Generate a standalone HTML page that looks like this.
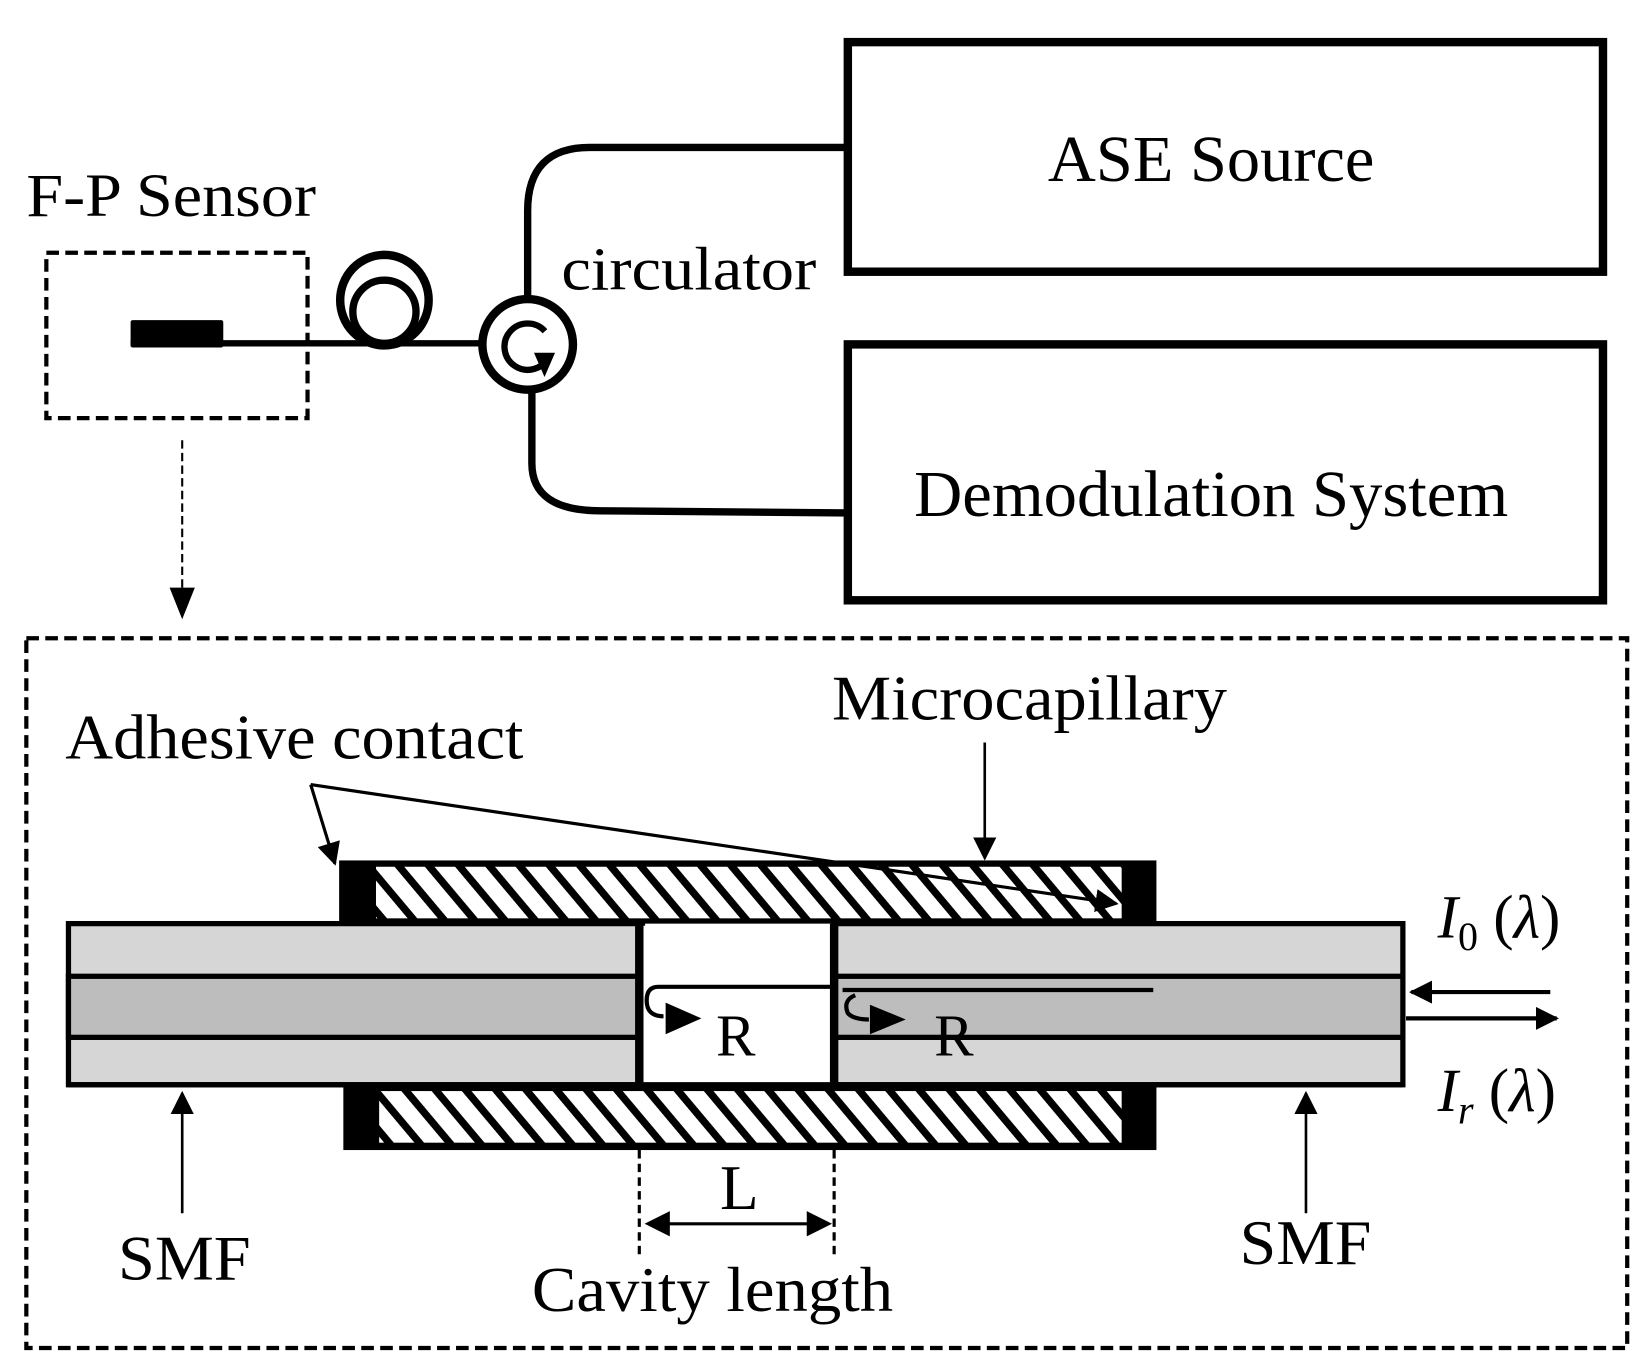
<!DOCTYPE html>
<html><head><style>html,body{margin:0;padding:0;background:#fff}svg{display:block}</style></head>
<body>
<svg width="1643" height="1367" viewBox="0 0 1560 1298" preserveAspectRatio="none" xmlns="http://www.w3.org/2000/svg" font-family="Liberation Serif, serif">
<defs>
<pattern id="h" width="22" height="22" patternUnits="userSpaceOnUse" patternTransform="rotate(-40)">
<rect width="22" height="22" fill="#fff"/><rect x="0" y="0" width="7" height="22" fill="#000"/>
</pattern>
<marker id="b" viewBox="0 0 10 10" refX="9" refY="5" markerWidth="22" markerHeight="22" orient="auto" markerUnits="userSpaceOnUse"><path d="M0,0L10,5L0,10z"/></marker>
</defs>
<rect x="805" y="40" width="717" height="218" fill="none" stroke="#000" stroke-width="8"/>
<rect x="805" y="327" width="717" height="243" fill="none" stroke="#000" stroke-width="8"/>
<text x="995" y="172" font-size="62" textLength="310" lengthAdjust="spacingAndGlyphs">ASE Source</text>
<text x="868" y="490" font-size="62" textLength="564" lengthAdjust="spacingAndGlyphs">Demodulation System</text>
<text x="25" y="205" font-size="58" textLength="275" lengthAdjust="spacingAndGlyphs">F-P Sensor</text>
<text x="533" y="275" font-size="58" textLength="242" lengthAdjust="spacingAndGlyphs">circulator</text>
<rect x="44" y="240" width="248" height="157" fill="none" stroke="#000" stroke-width="4" stroke-dasharray="12,6"/>
<rect x="124" y="304" width="88" height="26" fill="#000" rx="2"/>
<line x1="124" y1="326" x2="455" y2="326" stroke="#000" stroke-width="6"/>
<ellipse cx="365" cy="285" rx="42" ry="43" fill="none" stroke="#000" stroke-width="8"/>
<ellipse cx="365" cy="296" rx="30" ry="30" fill="none" stroke="#000" stroke-width="7"/>
<circle cx="501" cy="327" r="43" fill="#fff" stroke="#000" stroke-width="8"/>
<path d="M520,335 A22,22 0 1 0 501,350" fill="none" stroke="#000" stroke-width="6" transform="rotate(-60 501 327)"/>
<path d="M507,335 L527,335 L517,358z" fill="#000"/>
<path d="M501,284 L501,200 Q501,140 560,140 L805,140" fill="none" stroke="#000" stroke-width="7"/>
<path d="M505,372 L505,440 Q505,485 570,485 L805,487" fill="none" stroke="#000" stroke-width="7"/>
<line x1="173" y1="418" x2="173" y2="560" stroke="#000" stroke-width="2" stroke-dasharray="8,4"/>
<path d="M161,558 L185,558 L173,588z" fill="#000"/>
<rect x="25" y="606" width="1520" height="674" fill="none" stroke="#000" stroke-width="4" stroke-dasharray="12,6"/>
<text x="790" y="683" font-size="60" textLength="375" lengthAdjust="spacingAndGlyphs">Microcapillary</text>
<text x="62" y="720" font-size="60" textLength="435" lengthAdjust="spacingAndGlyphs">Adhesive contact</text>
<rect x="322" y="817" width="776" height="60" fill="#000"/>
<rect x="357" y="823" width="708" height="49" fill="url(#h)"/>
<rect x="326" y="1030" width="772" height="62" fill="#000"/>
<rect x="360" y="1036" width="705" height="49" fill="url(#h)"/>
<rect x="65" y="877" width="545" height="153" fill="#d6d6d6" stroke="#000" stroke-width="5"/>
<rect x="65" y="927" width="545" height="58" fill="#bdbdbd" stroke="#000" stroke-width="5"/>
<rect x="792" y="877" width="540" height="153" fill="#d6d6d6" stroke="#000" stroke-width="5"/>
<rect x="792" y="927" width="540" height="58" fill="#bdbdbd" stroke="#000" stroke-width="5"/>
<rect x="610" y="879" width="180" height="149" fill="#fff"/>
<line x1="607" y1="877" x2="607" y2="1032" stroke="#000" stroke-width="8"/>
<line x1="792" y1="877" x2="792" y2="1032" stroke="#000" stroke-width="8"/>
<line x1="65" y1="1030" x2="1332" y2="1030" stroke="#000" stroke-width="5"/>
<path d="M1095,940 L800,940 M790,937 L625,937 Q614,937 614,950 Q614,965 630,965" fill="none" stroke="#000" stroke-width="4"/>
<path d="M632,952 L666,967 L632,982z" fill="#000"/>
<path d="M812,945 Q800,950 805,962 Q810,968 825,968" fill="none" stroke="#000" stroke-width="4"/>
<path d="M826,954 L860,968 L826,982z" fill="#000"/>
<text x="680" y="1002" font-size="56">R</text>
<text x="887" y="1002" font-size="56">R</text>
<line x1="1472" y1="942" x2="1340" y2="942" stroke="#000" stroke-width="4" marker-end="url(#b)"/>
<line x1="1335" y1="967" x2="1478" y2="967" stroke="#000" stroke-width="4" marker-end="url(#b)"/>
<text x="1365" y="890" font-size="58" font-style="italic">I<tspan font-size="38" dy="12" font-style="normal">0</tspan><tspan dy="-12" font-style="normal"> (</tspan>λ<tspan font-style="normal">)</tspan></text>
<text x="1365" y="1055" font-size="58" font-style="italic">I<tspan font-size="38" dy="12">r</tspan><tspan dy="-12" font-style="normal"> (</tspan>λ<tspan font-style="normal">)</tspan></text>
<line x1="173" y1="1152" x2="173" y2="1038" stroke="#000" stroke-width="2.5" marker-end="url(#b)"/>
<text x="112" y="1215" font-size="60" textLength="126" lengthAdjust="spacingAndGlyphs">SMF</text>
<line x1="1240" y1="1152" x2="1240" y2="1038" stroke="#000" stroke-width="2.5" marker-end="url(#b)"/>
<text x="1177" y="1200" font-size="60" textLength="125" lengthAdjust="spacingAndGlyphs">SMF</text>
<line x1="935" y1="705" x2="935" y2="815" stroke="#000" stroke-width="2.5" marker-end="url(#b)"/>
<line x1="295" y1="745" x2="318" y2="820" stroke="#000" stroke-width="3" marker-end="url(#b)"/>
<line x1="295" y1="745" x2="1060" y2="858" stroke="#000" stroke-width="3" marker-end="url(#b)"/>
<line x1="607" y1="1092" x2="607" y2="1195" stroke="#000" stroke-width="3" stroke-dasharray="8,5"/>
<line x1="792" y1="1092" x2="792" y2="1195" stroke="#000" stroke-width="3" stroke-dasharray="8,5"/>
<line x1="630" y1="1162" x2="770" y2="1162" stroke="#000" stroke-width="3"/>
<path d="M612,1162 L636,1150 L636,1174z M790,1162 L766,1150 L766,1174z" fill="#000"/>
<text x="702" y="1148" font-size="60" text-anchor="middle">L</text>
<text x="505" y="1245" font-size="60" textLength="343" lengthAdjust="spacingAndGlyphs">Cavity length</text>
</svg>
</body></html>
